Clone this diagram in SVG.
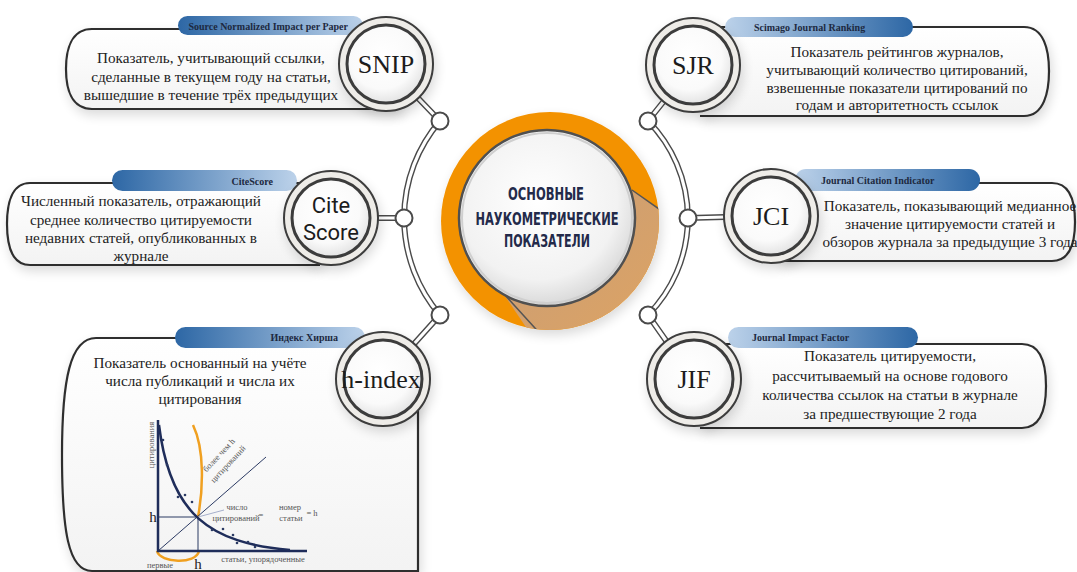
<svg xmlns="http://www.w3.org/2000/svg" width="1077" height="572" viewBox="0 0 1077 572">
<defs>
<style>
.box{fill:url(#boxFill);stroke:#2f2f2f;stroke-width:2.2;filter:url(#sh)}
.desc{font-family:"Liberation Serif",serif;font-size:15.2px;fill:#222;text-anchor:middle}
.tabt{font-family:"Liberation Serif",serif;font-weight:bold;font-size:10px;fill:#1d2940}
.lensO{fill:#eeece8;stroke:#3c3c3c;stroke-width:2;filter:url(#sh)}
.lensI{fill:url(#lensFill);stroke:#3c3c3c;stroke-width:3}
.lt{font-family:"Liberation Serif",serif;font-size:26px;fill:#1c1c1c;text-anchor:middle}
.ls{font-family:Roboto,"Noto Sans",sans-serif;font-size:22px;fill:#1c1c1c;text-anchor:middle}
.tubeO{fill:none;stroke:#4a4a4a;stroke-width:6}
.tubeI{fill:none;stroke:#ffffff;stroke-width:3.2}
.junc{fill:#ffffff;stroke:#4a4a4a;stroke-width:2}
.ctr{font-family:"DejaVu Sans Condensed","DejaVu Sans",sans-serif;font-weight:bold;font-size:18px;fill:#232a4a;text-anchor:middle}
.gl{font-family:"Liberation Serif",serif;font-size:8.5px;fill:#555}
.ax{stroke:#1f2d5a;stroke-width:2.5;fill:none}
.thin{stroke:#2b3a63;stroke-width:1;fill:none}
.og{stroke:#f0a020;stroke-width:2.5;fill:none}
.dot{fill:#2b3a63}
.hl{font-family:"Liberation Serif",serif;font-size:15px;fill:#222222;text-anchor:middle}
</style>
<linearGradient id="boxFill" x1="0" y1="0" x2="0" y2="1">
<stop offset="0" stop-color="#ffffff"/><stop offset="1" stop-color="#f3f3f3"/>
</linearGradient>
<linearGradient id="tabL" x1="0" y1="0" x2="1" y2="0">
<stop offset="0" stop-color="#2d67a5"/><stop offset="1" stop-color="#bcd2ea"/>
</linearGradient>
<linearGradient id="tabR" x1="0" y1="0" x2="1" y2="0">
<stop offset="0" stop-color="#bcd2ea"/><stop offset="1" stop-color="#2d67a5"/>
</linearGradient>
<radialGradient id="lensFill" cx="0.45" cy="0.4" r="0.6">
<stop offset="0" stop-color="#ffffff"/><stop offset="0.7" stop-color="#fafafa"/><stop offset="1" stop-color="#e4e4e4"/>
</radialGradient>
<radialGradient id="ctrFill" cx="0.45" cy="0.4" r="0.6">
<stop offset="0" stop-color="#ffffff"/><stop offset="0.75" stop-color="#f2f2f2"/><stop offset="1" stop-color="#d9d9d9"/>
</radialGradient>
<linearGradient id="tan" x1="0" y1="0" x2="1" y2="1">
<stop offset="0" stop-color="#c79d78"/><stop offset="1" stop-color="#e7a65a"/>
</linearGradient>
<clipPath id="orClip"><circle cx="550" cy="221" r="109"/></clipPath>
<filter id="sh" x="-20%" y="-20%" width="140%" height="150%">
<feGaussianBlur in="SourceAlpha" stdDeviation="6"/>
<feOffset dx="2" dy="5" result="b"/>
<feComponentTransfer><feFuncA type="linear" slope="0.15"/></feComponentTransfer>
<feMerge><feMergeNode/><feMergeNode in="SourceGraphic"/></feMerge>
</filter>
</defs>
<rect width="1077" height="572" fill="#ffffff"/>

<g id="connectors">
<path class="tubeO" d="M440,121 A149,149 0 0 0 440,315"/>
<path class="tubeI" d="M440,121 A149,149 0 0 0 440,315"/>
<path class="tubeO" d="M648,121 A138,138 0 0 1 648,315"/>
<path class="tubeI" d="M648,121 A138,138 0 0 1 648,315"/>
<path class="tubeO" d="M417,97 L440,121 M377,218 L404,218 M413,345 L440,315 M664,101 L648,121 M688,218 L725,217 M667,342 L648,315"/>
<path class="tubeI" d="M417,97 L440,121 M377,218 L404,218 M413,345 L440,315 M664,101 L648,121 M688,218 L725,217 M667,342 L648,315"/>
<circle class="junc" cx="440" cy="121" r="8.5"/>
<circle class="junc" cx="404" cy="218" r="8.5"/>
<circle class="junc" cx="440" cy="315" r="8.5"/>
<circle class="junc" cx="648" cy="121" r="8.5"/>
<circle class="junc" cx="688" cy="218" r="8.5"/>
<circle class="junc" cx="648" cy="315" r="8.5"/>
</g>

<g id="node-snip">
<path class="box" d="M400,29 H92 C71,29 66,50 66,69 C66,88 71,109 92,109 H400"/>
<rect x="178" y="16" width="185" height="19" rx="9.5" fill="url(#tabL)"/>
<text class="tabt" x="348" y="29.5" text-anchor="end">Source Normalized Impact per Paper</text>
<text class="desc" x="211" y="63">Показатель, учитывающий ссылки,</text>
<text class="desc" x="211" y="82">сделанные в текущем году на статьи,</text>
<text class="desc" x="211" y="100">вышедшие в течение трёх предыдущих</text>
<circle class="lensO" cx="386" cy="64" r="47"/>
<circle class="lensI" cx="386" cy="64" r="39"/>
<text class="lt" x="386" y="73">SNIP</text>
</g>

<g id="node-citescore">
<path class="box" d="M320,183 H30 C11,183 7,205 7,224 C7,243 11,265 30,265 H320"/>
<rect x="112" y="170" width="185" height="21" rx="10.5" fill="url(#tabL)"/>
<text class="tabt" x="273" y="184.5" text-anchor="end">CiteScore</text>
<text class="desc" x="141" y="206">Численный показатель, отражающий</text>
<text class="desc" x="141" y="224.5">среднее количество цитируемости</text>
<text class="desc" x="141" y="243">недавних статей, опубликованных в</text>
<text class="desc" x="141" y="261">журнале</text>
<circle class="lensO" cx="331" cy="218" r="47"/>
<circle class="lensI" cx="331" cy="218" r="39"/>
<text class="ls" x="331" y="213">Cite</text>
<text class="ls" x="331" y="240">Score</text>
</g>

<g id="node-hindex">
<path class="box" d="M400,338 H96 C70,338 62,380 62,455 C62,530 68,571 92,571 H418 V400"/>
<rect x="175" y="327" width="190" height="21" rx="10.5" fill="url(#tabL)"/>
<text class="tabt" x="338" y="341" text-anchor="end">Индекс Хирша</text>
<text class="desc" x="200" y="368">Показатель основанный на учёте</text>
<text class="desc" x="200" y="386">числа публикаций и числа их</text>
<text class="desc" x="200" y="404">цитирования</text>
<g id="graph">
<path class="og" d="M193,425 C205,450 203,490 198,517"/>
<path class="og" d="M157,551 C160,563 196,565 199,551"/>
<path class="thin" d="M158,551 L266,457"/>
<path class="thin" d="M158,517 H198 V551"/>
<path d="M198,517 L224,510" stroke="#a6b0cc" stroke-width="1" fill="none"/>
<path class="ax" d="M158,420 V551 H307"/>
<path class="ax" d="M159,425 C170,515 210,543 290,550"/>
<circle class="dot" cx="163" cy="440" r="1.3"/>
<circle class="dot" cx="167" cy="465" r="1.3"/>
<circle class="dot" cx="178" cy="497" r="1.3"/>
<circle class="dot" cx="185" cy="495" r="1.3"/>
<circle class="dot" cx="192" cy="502" r="1.3"/>
<circle class="dot" cx="212" cy="530" r="1.3"/>
<circle class="dot" cx="223" cy="529" r="1.3"/>
<circle class="dot" cx="233" cy="535" r="1.3"/>
<circle class="dot" cx="237" cy="543" r="1.3"/>
<circle class="dot" cx="248" cy="542" r="1.3"/>
<circle class="dot" cx="255" cy="547" r="1.3"/>
<text class="gl" transform="translate(154,445) rotate(-90)" text-anchor="middle">цитирования</text>
<text class="gl" transform="translate(221,457) rotate(-47)" text-anchor="middle">более чем h</text>
<text class="gl" transform="translate(230,466) rotate(-47)" text-anchor="middle">цитирований</text>
<text class="gl" x="237" y="510" text-anchor="middle">число</text>
<text class="gl" x="236" y="521" text-anchor="middle">цитирований</text>
<text class="gl" x="261" y="518" text-anchor="middle">=</text>
<text class="gl" x="290" y="510" text-anchor="middle">номер</text>
<text class="gl" x="291" y="521" text-anchor="middle">статьи</text>
<text class="gl" x="312" y="516" text-anchor="middle">= h</text>
<text class="gl" x="263" y="562" text-anchor="middle">статьи, упорядоченные</text>
<text class="gl" x="160" y="568" text-anchor="middle">первые</text>
<text class="hl" x="153" y="522">h</text>
<text class="hl" x="198" y="569">h</text>
</g>
<circle class="lensO" cx="383" cy="379" r="47"/>
<circle class="lensI" cx="383" cy="379" r="39"/>
<text class="lt" x="381" y="388">h-index</text>
</g>

<g id="node-sjr">
<path class="box" d="M700,27 H1024 C1044,27 1049,50 1049,71 C1049,92 1044,116 1024,116 H700"/>
<rect x="725" y="17" width="188" height="20" rx="10" fill="url(#tabR)"/>
<text class="tabt" x="754" y="31">Scimago Journal Ranking</text>
<text class="desc" x="897" y="57">Показатель рейтингов журналов,</text>
<text class="desc" x="897" y="75">учитывающий количество цитирований,</text>
<text class="desc" x="897" y="93">взвешенные показатели цитирований по</text>
<text class="desc" x="897" y="110">годам и авторитетность ссылок</text>
<circle class="lensO" cx="693" cy="65" r="47"/>
<circle class="lensI" cx="693" cy="65" r="39"/>
<text class="lt" x="693" y="74">SJR</text>
</g>

<g id="node-jci">
<path class="box" d="M780,183 H1052 C1071,183 1075,203 1075,222 C1075,241 1071,261 1052,261 H780"/>
<rect x="795" y="169" width="185" height="22" rx="11" fill="url(#tabR)"/>
<text class="tabt" x="821" y="184">Journal Citation Indicator</text>
<text class="desc" x="950" y="211">Показатель, показывающий медианное</text>
<text class="desc" x="950" y="229">значение цитируемости статей и</text>
<text class="desc" x="950" y="247">обзоров журнала за предыдущие 3 года</text>
<circle class="lensO" cx="771" cy="216" r="47"/>
<circle class="lensI" cx="771" cy="216" r="39"/>
<text class="lt" x="771" y="225">JCI</text>
</g>

<g id="node-jif">
<path class="box" d="M700,344 H1022 C1042,344 1046,365 1046,386 C1046,407 1042,428 1022,428 H700"/>
<rect x="728" y="327" width="190" height="21" rx="10.5" fill="url(#tabR)"/>
<text class="tabt" x="752" y="341">Journal Impact Factor</text>
<text class="desc" x="890" y="361">Показатель цитируемости,</text>
<text class="desc" x="890" y="381">рассчитываемый на основе годового</text>
<text class="desc" x="890" y="400">количества ссылок на статьи в журнале</text>
<text class="desc" x="890" y="419">за предшествующие 2 года</text>
<circle class="lensO" cx="694" cy="379" r="47"/>
<circle class="lensI" cx="694" cy="379" r="39"/>
<text class="lt" x="694" y="388">JIF</text>
</g>

<g id="node-center">
<circle cx="550" cy="221" r="109" fill="#f39200" filter="url(#sh)"/>
<g clip-path="url(#orClip)">
<path d="M632,190 L720,252 L720,400 L575,400 L503,293 Z" fill="url(#tan)"/>
<path d="M632,190 L720,252 M503,293 L575,372" stroke="#555" stroke-width="1.5" fill="none"/>
</g>
<circle cx="547" cy="218" r="88" fill="url(#ctrFill)" stroke="#505050" stroke-width="2.5"/>
<circle cx="547" cy="218" r="85" fill="none" stroke="#cfcfcf" stroke-width="2"/>
<text class="ctr" x="546" y="200" textLength="76" lengthAdjust="spacingAndGlyphs">ОСНОВНЫЕ</text>
<text class="ctr" x="547" y="225" textLength="143" lengthAdjust="spacingAndGlyphs">НАУКОМЕТРИЧЕСКИЕ</text>
<text class="ctr" x="547" y="247" textLength="86" lengthAdjust="spacingAndGlyphs">ПОКАЗАТЕЛИ</text>
</g>
</svg>
